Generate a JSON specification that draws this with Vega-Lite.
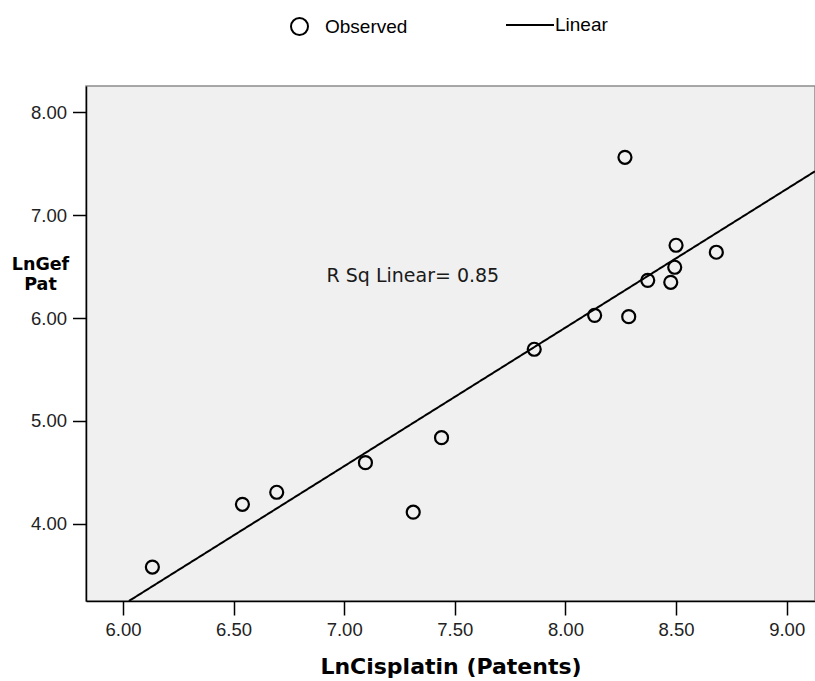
{
  "$schema": "https://vega.github.io/schema/vega-lite/v6.json",
  "width": 729,
  "height": 515,
  "autosize": {"type": "none"},
  "padding": {"left": 86, "top": 86, "right": 0, "bottom": 80},
  "background": "white",
  "config": {
    "view": {"fill": "#f0f0f0", "stroke": "#8c8c8c", "strokeWidth": 1.5},
    "axis": {
      "grid": false,
      "domainColor": "black",
      "domainWidth": 1.5,
      "tickColor": "black",
      "tickWidth": 1.5,
      "labelFont": "Liberation Sans",
      "labelFontSize": 18.5,
      "labelColor": "#222222",
      "labelOverlap": false,
      "labelFlush": false,
      "labelBound": false,
      "titleColor": "black",
      "titleFont": "DejaVu Sans",
      "titleFontWeight": "bold"
    }
  },
  "datasets": {
    "observed": [
      {"LnCisplatin": 6.133, "LnGefPat": 3.58, "series": "Observed"},
      {"LnCisplatin": 6.54, "LnGefPat": 4.19, "series": "Observed"},
      {"LnCisplatin": 6.695, "LnGefPat": 4.307, "series": "Observed"},
      {"LnCisplatin": 7.096, "LnGefPat": 4.595, "series": "Observed"},
      {"LnCisplatin": 7.312, "LnGefPat": 4.113, "series": "Observed"},
      {"LnCisplatin": 7.44, "LnGefPat": 4.838, "series": "Observed"},
      {"LnCisplatin": 7.859, "LnGefPat": 5.697, "series": "Observed"},
      {"LnCisplatin": 8.132, "LnGefPat": 6.027, "series": "Observed"},
      {"LnCisplatin": 8.286, "LnGefPat": 6.014, "series": "Observed"},
      {"LnCisplatin": 8.269, "LnGefPat": 7.563, "series": "Observed"},
      {"LnCisplatin": 8.372, "LnGefPat": 6.367, "series": "Observed"},
      {"LnCisplatin": 8.476, "LnGefPat": 6.348, "series": "Observed"},
      {"LnCisplatin": 8.494, "LnGefPat": 6.494, "series": "Observed"},
      {"LnCisplatin": 8.5, "LnGefPat": 6.708, "series": "Observed"},
      {"LnCisplatin": 8.682, "LnGefPat": 6.64, "series": "Observed"}
    ],
    "fit": [
      {"LnCisplatin": 6.027, "LnGefPat": 3.25, "series": "Linear"},
      {"LnCisplatin": 9.128, "LnGefPat": 7.427, "series": "Linear"}
    ],
    "note": [
      {"LnCisplatin": 6.92, "LnGefPat": 6.35, "label": "R Sq Linear= 0.85"}
    ]
  },
  "layer": [
    {
      "data": {"name": "fit"},
      "mark": {"type": "line", "color": "black", "strokeWidth": 2, "clip": true},
      "encoding": {
        "x": {
          "field": "LnCisplatin", "type": "quantitative",
          "scale": {"domain": [5.833, 9.128], "nice": false, "zero": false},
          "axis": {
            "values": [6, 6.5, 7, 7.5, 8, 8.5, 9], "format": ".2f",
            "tickSize": 14, "labelPadding": 5,
            "title": "LnCisplatin (Patents)", "titleFontSize": 22,
            "titleBaseline": "top", "titleY": 55
          }
        },
        "y": {
          "field": "LnGefPat", "type": "quantitative",
          "scale": {"domain": [3.25, 8.256], "nice": false, "zero": false},
          "axis": {
            "values": [4, 5, 6, 7, 8], "format": ".2f",
            "tickSize": 13.5, "labelPadding": 6,
            "title": ["LnGef", "Pat"], "titleFontSize": 17.5, "titleLineHeight": 20,
            "titleAngle": 0, "titleAlign": "center", "titleBaseline": "top",
            "titleX": -46, "titleY": 169
          }
        },
        "strokeDash": {
          "field": "series", "type": "nominal",
          "scale": {"range": [[1, 0]]},
          "legend": {
            "title": null, "orient": "none", "legendX": 419, "legendY": -86,
            "padding": 0, "symbolSize": 2304, "symbolStrokeWidth": 1.8,
            "symbolStrokeColor": "black", "labelOffset": 0,
            "labelFont": "Liberation Sans", "labelFontSize": 19, "labelColor": "black"
          }
        }
      }
    },
    {
      "data": {"name": "observed"},
      "mark": {"type": "point", "shape": "circle", "filled": false, "stroke": "black", "strokeWidth": 2.2, "size": 169, "opacity": 1},
      "encoding": {
        "x": {"field": "LnCisplatin", "type": "quantitative"},
        "y": {"field": "LnGefPat", "type": "quantitative"},
        "shape": {
          "field": "series", "type": "nominal",
          "scale": {"range": ["circle"]},
          "legend": {
            "title": null, "orient": "none", "legendX": 204, "legendY": -69,
            "padding": 0, "symbolSize": 289, "symbolStrokeWidth": 2,
            "symbolStrokeColor": "black", "symbolFillColor": "transparent",
            "labelOffset": 16, "labelFont": "Liberation Sans", "labelFontSize": 19, "labelColor": "black"
          }
        }
      }
    },
    {
      "data": {"name": "note"},
      "mark": {"type": "text", "align": "left", "baseline": "alphabetic", "font": "DejaVu Sans", "fontSize": 19, "color": "#1a1a1a"},
      "encoding": {
        "x": {"field": "LnCisplatin", "type": "quantitative"},
        "y": {"field": "LnGefPat", "type": "quantitative"},
        "text": {"field": "label"}
      }
    }
  ]
}
